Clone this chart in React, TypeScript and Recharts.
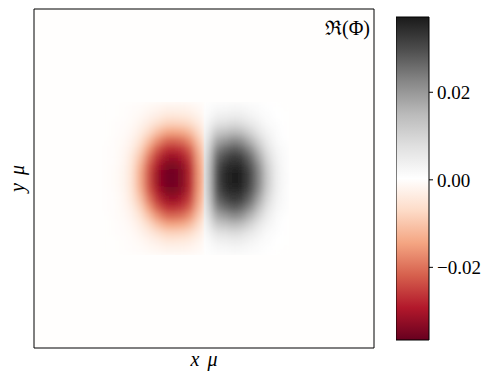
import {
  CartesianGrid,
  ReferenceArea,
  Scatter,
  ScatterChart,
  XAxis,
  YAxis,
} from "recharts";

// cell centres of the Φ grid (data units, plot spans -1..1 on both axes)
const xCenters = [
  -0.575, -0.525, -0.475, -0.425, -0.375, -0.325, -0.275, -0.225, -0.175,
  -0.125, -0.075, -0.025, 0.025, 0.075, 0.125, 0.175, 0.225, 0.275, 0.325,
  0.375, 0.425, 0.475,
];

const yCenters = [
  0.425, 0.375, 0.325, 0.275, 0.225, 0.175, 0.125, 0.075, 0.025, -0.025,
  -0.075, -0.125, -0.175, -0.225, -0.275, -0.325, -0.375, -0.425,
];

// Re(Φ), one row per yCenters entry
const phiRows = [
  [0, 0, -0.0001, -0.0003, -0.0005, -0.001, -0.0014, -0.0019, -0.002, -0.0019, -0.0015, -0.0009, 0.0007, 0.0017, 0.0018, 0.0021, 0.0019, 0.0014, 0.0009, 0.0005, 0.0002, 0],
  [0, 0, -0.0002, -0.0005, -0.001, -0.0019, -0.0029, -0.004, -0.0042, -0.0039, -0.0032, -0.0018, 0.0014, 0.0034, 0.0038, 0.0043, 0.004, 0.0028, 0.0017, 0.0009, 0.0004, 0.0002],
  [0, -0.0001, -0.0003, -0.0008, -0.0019, -0.0037, -0.0058, -0.0078, -0.0082, -0.0077, -0.0063, -0.0035, 0.0028, 0.0068, 0.0074, 0.0084, 0.0077, 0.0055, 0.0033, 0.0016, 0.0007, 0.0003],
  [0, -0.0002, -0.0005, -0.0013, -0.0032, -0.0064, -0.0104, -0.0135, -0.0142, -0.0134, -0.0108, -0.006, 0.0048, 0.0117, 0.0131, 0.0146, 0.0135, 0.0099, 0.0058, 0.0028, 0.0012, 0.0004],
  [0, -0.0003, -0.0007, -0.0021, -0.0051, -0.0104, -0.0162, -0.0202, -0.021, -0.0198, -0.016, -0.0089, 0.0072, 0.0173, 0.0196, 0.0217, 0.0202, 0.0157, 0.0096, 0.0046, 0.0018, 0.0006],
  [-0.0001, -0.0003, -0.0011, -0.003, -0.0076, -0.0149, -0.0219, -0.0262, -0.0271, -0.0255, -0.0207, -0.0114, 0.0092, 0.0223, 0.0257, 0.0279, 0.0263, 0.0214, 0.0139, 0.0067, 0.0026, 0.0009],
  [-0.0001, -0.0004, -0.0013, -0.0042, -0.01, -0.0189, -0.0265, -0.0309, -0.0317, -0.0299, -0.0242, -0.0134, 0.0108, 0.0262, 0.0305, 0.0327, 0.0312, 0.026, 0.0178, 0.009, 0.0034, 0.0012],
  [-0.0001, -0.0005, -0.0016, -0.0048, -0.0122, -0.0219, -0.0296, -0.0339, -0.0346, -0.0326, -0.0263, -0.0145, 0.0117, 0.0285, 0.0336, 0.0356, 0.0343, 0.0292, 0.0208, 0.0108, 0.0043, 0.0013],
  [-0.0002, -0.0006, -0.0018, -0.0052, -0.0133, -0.0233, -0.0313, -0.0351, -0.0357, -0.0336, -0.0272, -0.015, 0.0121, 0.0294, 0.0353, 0.0368, 0.0357, 0.0309, 0.0223, 0.0119, 0.0046, 0.0014],
  [-0.0002, -0.0006, -0.0018, -0.0052, -0.0133, -0.0233, -0.0313, -0.0351, -0.0357, -0.0336, -0.0272, -0.015, 0.0121, 0.0294, 0.0353, 0.0368, 0.0357, 0.0309, 0.0223, 0.0119, 0.0046, 0.0014],
  [-0.0001, -0.0005, -0.0016, -0.0048, -0.0122, -0.0219, -0.0296, -0.0339, -0.0346, -0.0326, -0.0263, -0.0145, 0.0117, 0.0285, 0.0336, 0.0356, 0.0343, 0.0292, 0.0208, 0.0108, 0.0043, 0.0013],
  [-0.0001, -0.0004, -0.0013, -0.0042, -0.01, -0.0189, -0.0265, -0.0309, -0.0317, -0.0299, -0.0242, -0.0134, 0.0108, 0.0262, 0.0305, 0.0327, 0.0312, 0.026, 0.0178, 0.009, 0.0034, 0.0012],
  [-0.0001, -0.0003, -0.0011, -0.003, -0.0076, -0.0149, -0.0219, -0.0262, -0.0271, -0.0255, -0.0207, -0.0114, 0.0092, 0.0223, 0.0257, 0.0279, 0.0263, 0.0214, 0.0139, 0.0067, 0.0026, 0.0009],
  [0, -0.0003, -0.0007, -0.0021, -0.0051, -0.0104, -0.0162, -0.0202, -0.021, -0.0198, -0.016, -0.0089, 0.0072, 0.0173, 0.0196, 0.0217, 0.0202, 0.0157, 0.0096, 0.0046, 0.0018, 0.0006],
  [0, -0.0002, -0.0005, -0.0013, -0.0032, -0.0064, -0.0104, -0.0135, -0.0142, -0.0134, -0.0108, -0.006, 0.0048, 0.0117, 0.0131, 0.0146, 0.0135, 0.0099, 0.0058, 0.0028, 0.0012, 0.0004],
  [0, -0.0001, -0.0003, -0.0008, -0.0019, -0.0037, -0.0058, -0.0078, -0.0082, -0.0077, -0.0063, -0.0035, 0.0028, 0.0068, 0.0074, 0.0084, 0.0077, 0.0055, 0.0033, 0.0016, 0.0007, 0.0003],
  [0, 0, -0.0002, -0.0005, -0.001, -0.0019, -0.0029, -0.004, -0.0042, -0.0039, -0.0032, -0.0018, 0.0014, 0.0034, 0.0038, 0.0043, 0.004, 0.0028, 0.0017, 0.0009, 0.0004, 0.0002],
  [0, 0, -0.0001, -0.0003, -0.0005, -0.001, -0.0014, -0.0019, -0.002, -0.0019, -0.0015, -0.0009, 0.0007, 0.0017, 0.0018, 0.0021, 0.0019, 0.0014, 0.0009, 0.0005, 0.0002, 0],
];

const colorbarTicks = [-0.02, 0, 0.02];
const V_MIN = -0.0366;
const V_MAX = 0.0372;

// matplotlib RdGy, low -> high
const RDGY = [
  "#67001f", "#b2182b", "#d6604d", "#f4a582", "#fddbc7", "#ffffff",
  "#e0e0e0", "#bababa", "#878787", "#4d4d4d", "#1a1a1a",
];

const SERIF = "'Liberation Serif', 'DejaVu Serif', serif";
const W = 498;
const H = 383;
const PLOT_W = 340;
const PLOT_H = 339;
const STEP = 0.05;
const CELL_W = (STEP * PLOT_W) / 2 + 0.6;
const CELL_H = (STEP * PLOT_H) / 2 + 0.6;

function hexRgb(h: string) {
  const n = parseInt(h.slice(1), 16);
  return [(n >> 16) & 255, (n >> 8) & 255, n & 255];
}

function cmap(v: number) {
  let t = (v - V_MIN) / (V_MAX - V_MIN);
  t = Math.max(0, Math.min(1, t));
  const s = t * (RDGY.length - 1);
  const i = Math.min(RDGY.length - 2, Math.floor(s));
  const f = s - i;
  const a = hexRgb(RDGY[i]);
  const b = hexRgb(RDGY[i + 1]);
  const c = a.map((ch, k) => Math.round(ch + (b[k] - ch) * f));
  return `rgb(${c[0]},${c[1]},${c[2]})`;
}

type HeatCell = { x: number; y: number; value: number };

const cells: HeatCell[] = yCenters.flatMap((y, i) =>
  xCenters.map((x, j) => ({ x, y, value: phiRows[i][j] })),
);
const negCells = cells.filter((c) => c.x < 0);
const posCells = cells.filter((c) => c.x > 0);

function HeatCellShape(props: any) {
  const { cx, cy, payload } = props;
  if (cx == null || cy == null) return <g />;
  return (
    <rect
      x={cx - CELL_W / 2}
      y={cy - CELL_H / 2}
      width={CELL_W}
      height={CELL_H}
      fill={cmap(payload.value)}
    />
  );
}

const fmtTick = (v: number) =>
  v < 0 ? `\u2212${Math.abs(v).toFixed(2)}` : v.toFixed(2);

export default function App() {
  return (
    <div
      style={{
        position: "absolute",
        left: 0,
        top: 0,
        width: W,
        height: H,
        background: "#fff",
      }}
    >
      <style>{`.heat-layer{filter:url(#heatBlur);clip-path:url(#heatClip);}`}</style>
      <svg width={0} height={0} style={{ position: "absolute" }}>
        <defs>
          <filter id="heatBlur" x="-10%" y="-10%" width="120%" height="120%">
            <feGaussianBlur stdDeviation={3.5} />
          </filter>
          <clipPath id="heatClip" clipPathUnits="objectBoundingBox">
            <rect x={0} y={0} width={1} height={1} />
          </clipPath>
          <linearGradient id="cbarGrad" x1="0" y1="1" x2="0" y2="0">
            {RDGY.map((c, i) => (
              <stop key={c + i} offset={i / (RDGY.length - 1)} stopColor={c} />
            ))}
          </linearGradient>
        </defs>
      </svg>

      <ScatterChart
        width={W}
        height={H}
        margin={{ top: 9, right: 124, bottom: 0, left: 0 }}
        style={{ position: "absolute", left: 0, top: 0 }}
      >
        <CartesianGrid
          horizontal={false}
          vertical={false}
          fill={cmap(0)}
          fillOpacity={1}
        />
        <XAxis
          type="number"
          dataKey="x"
          domain={[-1, 1]}
          allowDataOverflow
          height={35}
          tick={false}
          tickLine={false}
          axisLine={false}
          label={{
            content: (p: any) => (
              <text
                x={p.viewBox.x + p.viewBox.width / 2}
                y={p.viewBox.y + 18}
                textAnchor="middle"
                fontFamily={SERIF}
                fontStyle="italic"
                fontSize={20}
                wordSpacing={3}
                fill="#000"
              >
                x μ
              </text>
            ),
          }}
        />
        <YAxis
          type="number"
          dataKey="y"
          domain={[-1, 1]}
          allowDataOverflow
          width={34}
          tick={false}
          tickLine={false}
          axisLine={false}
          label={{
            content: (p: any) => {
              const cx = p.viewBox.x + 24;
              const cy = p.viewBox.y + p.viewBox.height / 2;
              return (
                <text
                  x={cx}
                  y={cy}
                  transform={`rotate(-90, ${cx}, ${cy})`}
                  textAnchor="middle"
                  fontFamily={SERIF}
                  fontStyle="italic"
                  fontSize={20}
                  wordSpacing={3}
                  fill="#000"
                >
                  y μ
                </text>
              );
            },
          }}
        />
        <Scatter
          className="heat-layer"
          data={negCells}
          shape={HeatCellShape}
          isAnimationActive={false}
        />
        <Scatter
          className="heat-layer"
          data={posCells}
          shape={HeatCellShape}
          isAnimationActive={false}
        />
        <ReferenceArea
          x1={-1}
          x2={1}
          y1={-1}
          y2={1}
          fill="none"
          stroke="#000"
          strokeWidth={1}
          label={{
            content: (p: any) => (
              <text
                x={p.viewBox.x + p.viewBox.width - 4}
                y={p.viewBox.y + 26}
                textAnchor="end"
                fontFamily={SERIF}
                fontSize={20}
                fill="#000"
              >
                ℜ(Φ)
              </text>
            ),
          }}
        />
      </ScatterChart>

      <ScatterChart
        width={102}
        height={H}
        margin={{ top: 17, right: 0, bottom: 43, left: 0 }}
        style={{ position: "absolute", left: 396, top: 0 }}
      >
        <XAxis type="number" dataKey="x" domain={[0, 1]} allowDataOverflow hide />
        <YAxis
          type="number"
          dataKey="y"
          orientation="right"
          domain={[V_MIN, V_MAX]}
          allowDataOverflow
          ticks={colorbarTicks}
          interval={0}
          width={69}
          axisLine={false}
          tickSize={4}
          tickMargin={4}
          tickLine={{ stroke: "#000" }}
          tick={{ fill: "#000", fontSize: 19, fontFamily: SERIF }}
          tickFormatter={fmtTick}
        />
        <ReferenceArea
          x1={0}
          x2={1}
          y1={V_MIN}
          y2={V_MAX}
          fill="url(#cbarGrad)"
          fillOpacity={1}
          stroke="#000"
          strokeWidth={1}
        />
      </ScatterChart>
    </div>
  );
}
